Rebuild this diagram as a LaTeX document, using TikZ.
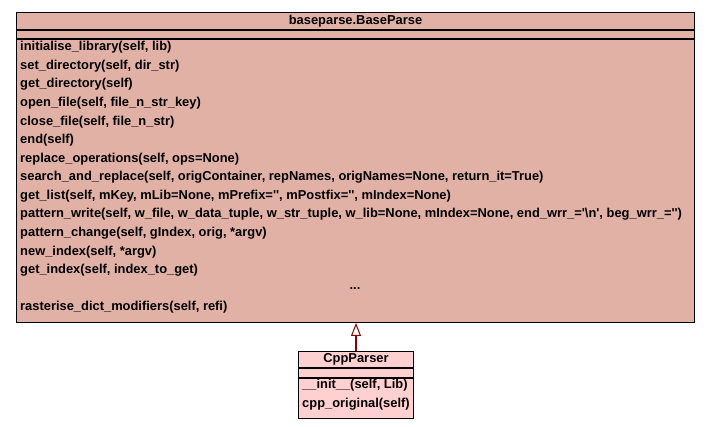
\documentclass[tikz,border=0pt]{standalone}
\usepackage{fontspec}
\setmainfont{Liberation Sans}
\usetikzlibrary{arrows.meta}

\definecolor{basefill}{HTML}{E2B1A5}
\definecolor{subfill}{HTML}{FFD0D0}
\definecolor{inheritred}{HTML}{8B0000}

\tikzset{
	classpart/.style={draw, line width=1pt, inner sep=0pt, anchor=north west, font=\fontsize{12.9}{14}\selectfont\bfseries},
	member/.style={anchor=west, inner sep=0pt, yshift=-1pt, font=\fontsize{12.9}{14}\selectfont\bfseries},
}

\begin{document}
\begin{tikzpicture}[x=1pt, y=-1pt]
		\useasboundingbox (0,0) rectangle (709,427);
		% baseparse.BaseParse
		\node (bt) [classpart, fill=basefill, minimum width=678pt, minimum height=17pt] at (16,12) {baseparse.BaseParse};
		\node (ba) [classpart, fill=basefill, minimum width=678pt, minimum height=8pt] at (bt.south west) {};
		\node (bo) [classpart, fill=basefill, minimum width=678pt, minimum height=283pt] at (ba.south west) {};
		
		\node (m1) [member] at (20,46.5) {initialise\_library(self, lib)};
		\node (m2) [member] at (20,65.1) {set\_directory(self, dir\_str)};
		\node (m3) [member] at (20,83.6) {get\_directory(self)};
		\node (m4) [member] at (20,102.2) {open\_file(self, file\_n\_str\_key)};
		\node (m5) [member] at (20,120.8) {close\_file(self, file\_n\_str)};
		\node (m6) [member] at (20,139.4) {end(self)};
		\node (m7) [member] at (20,157.9) {replace\_operations(self, ops=None)};
		\node (m8) [member] at (20,176.5) {search\_and\_replace(self, origContainer, repNames, origNames=None, return\_it=True)};
		\node (m9) [member] at (20,195.1) {get\_list(self, mKey, mLib=None, mPrefix=\textquotesingle\textquotesingle, mPostfix=\textquotesingle\textquotesingle, mIndex=None)};
		\node (m10) [member] at (20,213.6) {pattern\_write(self, w\_file, w\_data\_tuple, w\_str\_tuple, w\_lib=None, mIndex=None, end\_wrr\_=\textquotesingle\textbackslash n\textquotesingle, beg\_wrr\_=\textquotesingle\textquotesingle)};
		\node (m11) [member] at (20,232.2) {pattern\_change(self, gIndex, orig, *argv)};
		\node (m12) [member] at (20,250.8) {new\_index(self, *argv)};
		\node (m13) [member] at (20,269.3) {get\_index(self, index\_to\_get)};
		\node (dots) [member, anchor=center] at (355,287.9) {...};
		\node (m14) [member] at (20,306.5) {rasterise\_dict\_modifiers(self, refi)};
		
		% CppParser
		\node (ct) [classpart, fill=subfill, minimum width=115pt, minimum height=16pt] at (298,351) {CppParser};
		\node (ca) [classpart, fill=subfill, minimum width=115pt, minimum height=9pt] at (ct.south west) {};
		\node (co) [classpart, fill=subfill, minimum width=115pt, minimum height=40pt] at (ca.south west) {};
		\node (c1) [member] at (302,384.5) {\_\_init\_\_(self, Lib)};
		\node (c2) [member] at (302,403) {cpp\_original(self)};
		
		\draw[-{Triangle[open, length=13pt, width=10pt, line width=1pt]}, inheritred, line width=2pt] (ct.north) -- (ct.north |- bo.south);
	\end{tikzpicture}
\end{document}
